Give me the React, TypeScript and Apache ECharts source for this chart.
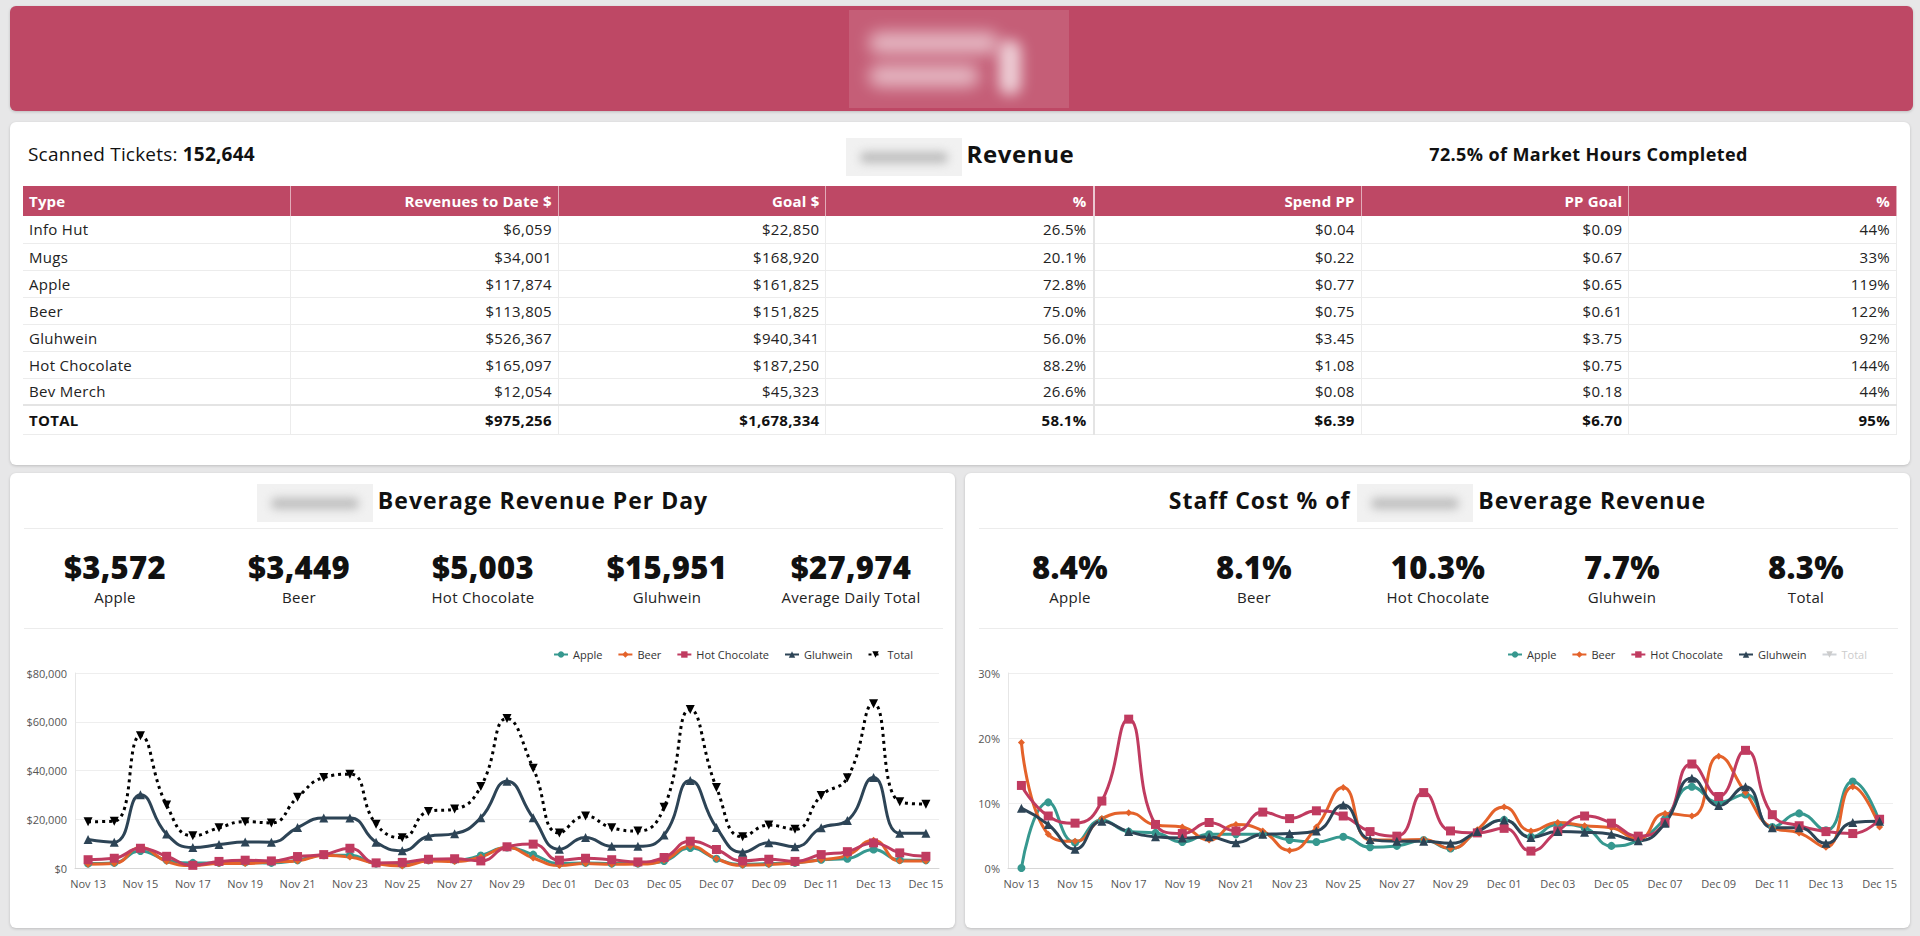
import React, { useEffect, useRef } from "react";
import * as echarts from "echarts";

const FONT = "'Open Sans', 'Noto Sans', sans-serif";

const dates = [
  "Nov 13", "Nov 14", "Nov 15", "Nov 16", "Nov 17", "Nov 18", "Nov 19", "Nov 20", "Nov 21", "Nov 22", "Nov 23",
  "Nov 24", "Nov 25", "Nov 26", "Nov 27", "Nov 28", "Nov 29", "Nov 30", "Dec 01", "Dec 02", "Dec 03", "Dec 04",
  "Dec 05", "Dec 06", "Dec 07", "Dec 08", "Dec 09", "Dec 10", "Dec 11", "Dec 12", "Dec 13", "Dec 14", "Dec 15",
];

const revApple = [1800, 2100, 7000, 3200, 2100, 2100, 2300, 2100, 3200, 5200, 5200, 1800, 1400, 3200, 3200, 5100, 8400, 5500, 1800, 2100, 1800, 1800, 2900, 8200, 3800, 1500, 1800, 2100, 3400, 3800, 7600, 3300, 3200];
const revBeer = [1500, 1800, 8400, 2700, 1000, 1800, 1800, 2500, 2900, 5200, 4500, 1800, 800, 2900, 2700, 4500, 8400, 4100, 1000, 1800, 1500, 1600, 3200, 8900, 3800, 1100, 1400, 2100, 3400, 5200, 11400, 2900, 2900];
const revHot = [3400, 4000, 8100, 4800, 1100, 2700, 3200, 2900, 4700, 5500, 8100, 2100, 2300, 3600, 3800, 2900, 8700, 9800, 3200, 4000, 3400, 2500, 4300, 11000, 7600, 2900, 3600, 2700, 5500, 6700, 10300, 6200, 4800];
const revGluh = [11700, 10600, 30100, 13900, 8400, 9600, 10700, 10600, 16600, 20500, 20500, 10600, 7100, 13000, 14100, 20600, 35600, 20600, 7700, 12500, 8900, 8900, 13500, 35900, 16600, 6500, 10400, 8700, 16500, 19500, 37100, 14300, 14300];
const revTotal = [19000, 19200, 54300, 25800, 13200, 16500, 19000, 18500, 29000, 37100, 38500, 18000, 12400, 23200, 24200, 33400, 61300, 40900, 14400, 21300, 16500, 15200, 24900, 65000, 33000, 12800, 17600, 15900, 29700, 37000, 67400, 27200, 26200];

const pctApple = [0, 10.1, 3.9, 7.4, 5.6, 5.4, 4.0, 5.2, 5.2, 5.2, 4.3, 4.0, 4.8, 3.2, 3.4, 4.3, 3.0, 5.6, 7.4, 4.8, 6.7, 6.2, 3.4, 4.3, 7.6, 12.5, 10.1, 11.3, 6.3, 8.4, 5.8, 13.3, 7.1];
const pctBeer = [19.3, 5.2, 4.1, 7.6, 8.5, 6.6, 6.3, 4.3, 6.7, 5.7, 2.7, 6.3, 12.4, 4.3, 4.3, 4.4, 3.0, 5.9, 9.4, 5.7, 7.0, 6.5, 6.2, 4.4, 8.4, 8.0, 17.2, 11.6, 6.2, 5.4, 3.2, 12.5, 6.3];
const pctHot = [12.7, 8.0, 6.9, 10.3, 22.9, 6.7, 5.3, 7.0, 5.7, 8.6, 7.6, 8.8, 8.0, 5.6, 4.9, 11.6, 5.7, 5.4, 6.1, 2.6, 5.7, 8.0, 6.9, 4.9, 7.0, 16.0, 11.0, 18.1, 8.2, 6.5, 5.6, 5.3, 7.5];
const pctGluh = [9.2, 6.7, 2.9, 7.2, 5.6, 4.8, 4.6, 4.8, 3.9, 5.2, 5.3, 5.7, 9.7, 4.4, 4.1, 4.1, 3.8, 5.6, 7.4, 4.7, 5.6, 5.5, 5.2, 4.2, 6.9, 13.8, 9.6, 12.5, 6.2, 6.2, 3.8, 7.0, 7.2];
const pctTotal: number[] = [];

const tableHeaders = ["Type", "Revenues to Date $", "Goal $", "%", "Spend PP", "PP Goal", "%"];
const tableTypes = ["Info Hut", "Mugs", "Apple", "Beer", "Gluhwein", "Hot Chocolate", "Bev Merch"];
const tableRevenue = ["$6,059", "$34,001", "$117,874", "$113,805", "$526,367", "$165,097", "$12,054"];
const tableGoal = ["$22,850", "$168,920", "$161,825", "$151,825", "$940,341", "$187,250", "$45,323"];
const tablePct = ["26.5%", "20.1%", "72.8%", "75.0%", "56.0%", "88.2%", "26.6%"];
const tableSpend = ["$0.04", "$0.22", "$0.77", "$0.75", "$3.45", "$1.08", "$0.08"];
const tablePPGoal = ["$0.09", "$0.67", "$0.65", "$0.61", "$3.75", "$0.75", "$0.18"];
const tablePPPct = ["44%", "33%", "119%", "122%", "92%", "144%", "44%"];
const tableTotal = ["TOTAL", "$975,256", "$1,678,334", "58.1%", "$6.39", "$6.70", "95%"];

const revKpiValues = ["$3,572", "$3,449", "$5,003", "$15,951", "$27,974"];
const revKpiLabels = ["Apple", "Beer", "Hot Chocolate", "Gluhwein", "Average Daily Total"];
const pctKpiValues = ["8.4%", "8.1%", "10.3%", "7.7%", "8.3%"];
const pctKpiLabels = ["Apple", "Beer", "Hot Chocolate", "Gluhwein", "Total"];

const seriesNames = ["Apple", "Beer", "Hot Chocolate", "Gluhwein", "Total"];
const COLORS = ["#36988f", "#e4622a", "#c03b60", "#2d4456", "#000000"];
const PINK = "#be4865";

function buildOption(kind: "rev" | "pct") {
  const data = kind === "rev" ? [revApple, revBeer, revHot, revGluh, revTotal] : [pctApple, pctBeer, pctHot, pctGluh, pctTotal];
  const symbols = ["circle", "diamond", "rect", "triangle", "triangle"];
  const sizes = [8, 7, 9, 9, 9];
  const series = seriesNames.map((name, i) => ({
    name,
    type: "line",
    smooth: true,
    data: data[i],
    symbol: symbols[i],
    symbolSize: sizes[i],
    symbolRotate: i === 4 ? 180 : 0,
    showAllSymbol: true,
    itemStyle: { color: COLORS[i] },
    lineStyle: { color: COLORS[i], width: 3, type: i === 4 ? [3, 4] : "solid" },
  }));
  return {
    animation: false,
    textStyle: { fontFamily: FONT },
    legend: {
      top: 11,
      right: kind === "rev" ? 37 : 38,
      itemWidth: 14,
      itemHeight: 8,
      itemGap: 15,
      textStyle: { fontSize: 11, color: "#333", fontFamily: FONT },
      inactiveColor: "#ccc",
      selected: kind === "pct" ? { Total: false } : undefined,
      data: seriesNames,
    },
    grid: { left: kind === "rev" ? 65 : 43, right: kind === "rev" ? 16 : 17, top: 40, bottom: 60 },
    xAxis: {
      type: "category",
      data: dates,
      boundaryGap: true,
      axisLine: { lineStyle: { color: "#d6d6d6" } },
      axisTick: { interval: 0, length: 5, lineStyle: { color: "#d6d6d6" } },
      axisLabel: { interval: 1, color: "#555", fontSize: 11, margin: 10, fontFamily: FONT },
    },
    yAxis: {
      type: "value",
      min: 0,
      max: kind === "rev" ? 80000 : 30,
      interval: kind === "rev" ? 20000 : 10,
      axisLine: { show: true, lineStyle: { color: "#e6e6e6" } },
      splitLine: { lineStyle: { color: "#eeeeee" } },
      axisLabel: {
        color: "#555",
        fontSize: 11,
        margin: 8,
        fontFamily: FONT,
        formatter: (v: number) => (kind === "rev" ? "$" + v.toLocaleString("en-US") : v + "%"),
      },
    },
    series,
  };
}

function LineChart({ kind }: { kind: "rev" | "pct" }) {
  const ref = useRef<HTMLDivElement>(null);
  useEffect(() => {
    const c = echarts.init(ref.current as HTMLDivElement, null, { renderer: "svg" });
    c.setOption(buildOption(kind) as any);
    return () => c.dispose();
  }, [kind]);
  return <div ref={ref} style={{ position: "absolute", left: 0, top: 160, width: 945, height: 295 }} />;
}

const Blur = ({ w, h }: { w: number; h: number }) => (
  <span
    style={{
      display: "inline-block",
      width: w,
      height: h,
      background: "#f1f1f1",
      verticalAlign: "middle",
      position: "relative",
      overflow: "hidden",
      marginRight: 5,
    }}
  >
    <span
      style={{
        position: "absolute",
        left: 14,
        right: 14,
        top: "38%",
        bottom: "34%",
        background: "#bcbcbc",
        filter: "blur(5px)",
        borderRadius: 8,
      }}
    />
  </span>
);

const panel: React.CSSProperties = {
  position: "absolute",
  background: "#fff",
  borderRadius: 6,
  boxShadow: "0 1px 3px rgba(0,0,0,0.18)",
};

function Kpis({ values, labels }: { values: string[]; labels: string[] }) {
  return (
    <>
      {values.map((v, i) => (
        <div key={i} style={{ position: "absolute", left: 13 + i * 184, width: 184, top: 74, textAlign: "center" }}>
          <div style={{ fontSize: 31, fontWeight: 800, color: "#111", lineHeight: "40px", letterSpacing: 0.3 }}>{v}</div>
          <div style={{ fontSize: 15, color: "#222", lineHeight: "20px", letterSpacing: 0.3 }}>{labels[i]}</div>
        </div>
      ))}
    </>
  );
}

export default function App() {
  const th: React.CSSProperties = {
    background: PINK,
    color: "#fff",
    fontWeight: 700,
    fontSize: 15,
    letterSpacing: 0.2,
    height: 30,
    padding: "0 6px",
    borderRight: "1px solid rgba(255,255,255,0.55)",
    boxSizing: "border-box",
  };
  const td: React.CSSProperties = {
    fontSize: 15,
    letterSpacing: 0.3,
    color: "#222",
    height: 27,
    padding: "0 6px",
    borderBottom: "1px solid #ececec",
    borderRight: "1px solid #ececec",
    boxSizing: "border-box",
  };
  const rows = tableTypes.map((t, i) => [t, tableRevenue[i], tableGoal[i], tablePct[i], tableSpend[i], tablePPGoal[i], tablePPPct[i]]);
  const titleStyle: React.CSSProperties = {
    position: "absolute",
    left: 0,
    width: 945,
    top: 8,
    textAlign: "center",
    fontSize: 23,
    fontWeight: 700,
    color: "#111",
    lineHeight: "38px",
    letterSpacing: 1,
  };
  return (
    <div style={{ position: "fixed", left: 0, top: 0, width: 1920, height: 936, background: "#e7e7e8", fontFamily: FONT, overflow: "hidden" }}>
      {/* Banner */}
      <div style={{ ...panel, left: 10, top: 6, width: 1903, height: 105, background: PINK }}>
        <div style={{ position: "absolute", left: 839, top: 4, width: 220, height: 98, background: "rgba(255,255,255,0.12)", overflow: "hidden" }}>
          <div style={{ position: "absolute", left: 20, top: 22, width: 130, height: 22, background: "rgba(255,255,255,0.55)", filter: "blur(8px)", borderRadius: 10 }} />
          <div style={{ position: "absolute", left: 20, top: 55, width: 110, height: 22, background: "rgba(255,255,255,0.55)", filter: "blur(8px)", borderRadius: 10 }} />
          <div style={{ position: "absolute", left: 150, top: 30, width: 22, height: 55, background: "rgba(255,255,255,0.7)", filter: "blur(7px)", borderRadius: 10 }} />
        </div>
      </div>

      {/* Table panel */}
      <div style={{ ...panel, left: 10, top: 122, width: 1900, height: 343 }}>
        <div style={{ position: "absolute", left: 18, top: 19, fontSize: 19, color: "#111", lineHeight: "26px", letterSpacing: 0.2 }}>
          Scanned Tickets: <b>152,644</b>
        </div>
        <div style={{ position: "absolute", left: 0, width: 1900, top: 13, textAlign: "center", fontSize: 24, fontWeight: 700, color: "#111", lineHeight: "38px", letterSpacing: 0.6 }}>
          <Blur w={116} h={38} />
          Revenue
        </div>
        <div style={{ position: "absolute", left: 1262, width: 633, top: 19, textAlign: "center", fontSize: 18, fontWeight: 700, color: "#111", lineHeight: "26px", letterSpacing: 0.4 }}>
          72.5% of Market Hours Completed
        </div>
        <table
          style={{
            position: "absolute",
            left: 13,
            top: 64,
            width: 1874,
            borderCollapse: "collapse",
            tableLayout: "fixed",
            fontFamily: FONT,
          }}
        >
          <thead>
            <tr>
              {tableHeaders.map((h, i) => (
                <th key={i} style={{ ...th, textAlign: i === 0 ? "left" : "right", borderLeft: i === 4 ? "2px solid rgba(255,255,255,0.7)" : undefined }}>
                  {h}
                </th>
              ))}
            </tr>
          </thead>
          <tbody>
            {rows.map((r, ri) => (
              <tr key={ri}>
                {r.map((c, ci) => (
                  <td key={ci} style={{ ...td, textAlign: ci === 0 ? "left" : "right", borderLeft: ci === 4 ? "2px solid #e4e4e4" : undefined }}>
                    {c}
                  </td>
                ))}
              </tr>
            ))}
            <tr>
              {tableTotal.map((c, ci) => (
                <td key={ci} style={{ ...td, height: 29, fontWeight: 700, color: "#111", textAlign: ci === 0 ? "left" : "right", borderLeft: ci === 4 ? "2px solid #e4e4e4" : undefined, borderTop: "2px solid #e4e4e4" }}>
                  {c}
                </td>
              ))}
            </tr>
          </tbody>
        </table>
      </div>

      {/* Left panel */}
      <div style={{ ...panel, left: 10, top: 473, width: 945, height: 455 }}>
        <div style={titleStyle}>
          <Blur w={116} h={38} />
          Beverage Revenue Per Day
        </div>
        <div style={{ position: "absolute", left: 14, right: 12, top: 55, height: 1, background: "#ececec" }} />
        <Kpis values={revKpiValues} labels={revKpiLabels} />
        <div style={{ position: "absolute", left: 14, right: 12, top: 155, height: 1, background: "#ececec" }} />
        <LineChart kind="rev" />
      </div>

      {/* Right panel */}
      <div style={{ ...panel, left: 965, top: 473, width: 945, height: 455 }}>
        <div style={titleStyle}>
          Staff Cost % of <Blur w={116} h={38} />
          Beverage Revenue
        </div>
        <div style={{ position: "absolute", left: 14, right: 12, top: 55, height: 1, background: "#ececec" }} />
        <Kpis values={pctKpiValues} labels={pctKpiLabels} />
        <div style={{ position: "absolute", left: 14, right: 12, top: 155, height: 1, background: "#ececec" }} />
        <LineChart kind="pct" />
      </div>
    </div>
  );
}
